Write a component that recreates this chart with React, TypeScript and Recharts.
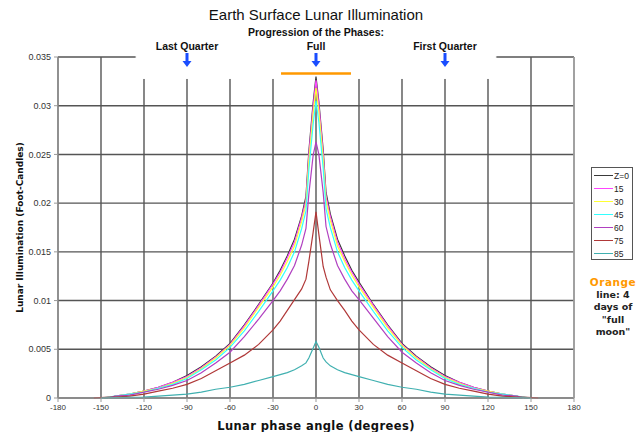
import React from "react";
import {
  CartesianGrid,
  Line,
  LineChart,
  ReferenceArea,
  ReferenceDot,
  ReferenceLine,
  XAxis,
  YAxis,
} from "recharts";

// phase angle (degrees) and illumination (foot-candles) per zenith angle
const ANGLES = [
  -155, -150, -145, -140, -130, -120, -110, -100, -90, -80, -70, -60, -50, -40, -30, -25, -20, -15, -10, -7, -5, -2,
  0, 2, 5, 7, 10, 15, 20, 25, 30, 40, 50, 60, 70, 80, 90, 100, 110, 120, 130, 140, 145, 150, 155,
];

const Z0 = [
  null, null, 0, 0.0002, 0.0004, 0.0007, 0.0011, 0.0016, 0.0023, 0.0032, 0.0043, 0.0056, 0.0075, 0.0096, 0.0118,
  0.0131, 0.0146, 0.0163, 0.0187, 0.0207, 0.0253, 0.0303, 0.033, 0.0304, 0.0255, 0.0211, 0.0189, 0.0163, 0.0146,
  0.0131, 0.0119, 0.0096, 0.0075, 0.0056, 0.0043, 0.0032, 0.0023, 0.0016, 0.0011, 0.0007, 0.0004, 0.0002, 0, null, null,
];
const Z15 = [
  null, null, 0, 0.0002, 0.0004, 0.0007, 0.0011, 0.0016, 0.0022, 0.0031, 0.0042, 0.0055, 0.0074, 0.0095, 0.0117,
  0.0129, 0.0144, 0.016, 0.0185, 0.0203, 0.0249, 0.0299, 0.0326, 0.0301, 0.0251, 0.0207, 0.0186, 0.016, 0.0143,
  0.0129, 0.0117, 0.0095, 0.0074, 0.0055, 0.0042, 0.0031, 0.0022, 0.0016, 0.0011, 0.0007, 0.0004, 0.0002, 0, null, null,
];
const Z30 = [
  null, null, 0, 0.0002, 0.0004, 0.0007, 0.001, 0.0015, 0.0021, 0.003, 0.0041, 0.0054, 0.0072, 0.0093, 0.0114,
  0.0126, 0.014, 0.0156, 0.0181, 0.0199, 0.0243, 0.0292, 0.0318, 0.0294, 0.0245, 0.0202, 0.0182, 0.0156, 0.014,
  0.0126, 0.0114, 0.0093, 0.0072, 0.0054, 0.0041, 0.003, 0.0021, 0.0015, 0.001, 0.0007, 0.0004, 0.0002, 0, null, null,
];
const Z45 = [
  null, 0, 0.0001, 0.0002, 0.0004, 0.0006, 0.001, 0.0014, 0.002, 0.0029, 0.0039, 0.0052, 0.0069, 0.0089, 0.011,
  0.0121, 0.0134, 0.015, 0.0174, 0.0192, 0.0234, 0.0281, 0.0305, 0.0283, 0.0236, 0.0194, 0.0175, 0.015, 0.0134,
  0.0121, 0.011, 0.0089, 0.0069, 0.0052, 0.0039, 0.0029, 0.002, 0.0014, 0.001, 0.0006, 0.0004, 0.0002, 0.0001, 0, null,
];
const Z60 = [
  null, null, 0, 0.0002, 0.0003, 0.0006, 0.0009, 0.0013, 0.0018, 0.0026, 0.0036, 0.0047, 0.0063, 0.0081, 0.01,
  0.011, 0.0122, 0.0136, 0.0157, 0.0174, 0.0209, 0.0249, 0.0263, 0.025, 0.0211, 0.0176, 0.0158, 0.0136, 0.0122,
  0.011, 0.0101, 0.0082, 0.0063, 0.0047, 0.0036, 0.0026, 0.0018, 0.0013, 0.0009, 0.0006, 0.0003, 0.0002, 0, null, null,
];
const Z75 = [
  0, 0.00005, 0.0001, 0.0001, 0.0002, 0.0004, 0.0007, 0.001, 0.0014, 0.002, 0.0028, 0.0036, 0.0044, 0.0055, 0.007,
  0.0079, 0.009, 0.0101, 0.0112, 0.0122, 0.014, 0.017, 0.0191, 0.0168, 0.0135, 0.0124, 0.0111, 0.01, 0.009,
  0.0079, 0.007, 0.0055, 0.0044, 0.0036, 0.0028, 0.002, 0.0014, 0.001, 0.0007, 0.0004, 0.0002, 0.0001, 0.0001, 0.00005, 0,
];
const Z85 = [
  null, 0, 0.00002, 0.00003, 0.00006, 0.0001, 0.0002, 0.0003, 0.0004, 0.0006, 0.0009, 0.0011, 0.0014, 0.0018, 0.0022,
  0.0024, 0.0026, 0.0029, 0.0033, 0.0036, 0.0041, 0.0051, 0.0058, 0.0052, 0.0041, 0.0037, 0.0033, 0.0029, 0.0026,
  0.0024, 0.0022, 0.0018, 0.0014, 0.0011, 0.0009, 0.0006, 0.0004, 0.0003, 0.0002, 0.0001, 0.00006, 0.00003, 0.00002, 0, null,
];

const SERIES = [
  { key: "z0", name: "Z=0", color: "#3a3a3a", values: Z0 },
  { key: "z15", name: "15", color: "#ff44ff", values: Z15 },
  { key: "z30", name: "30", color: "#ffff33", values: Z30 },
  { key: "z45", name: "45", color: "#33ffff", values: Z45 },
  { key: "z60", name: "60", color: "#b040c0", values: Z60 },
  { key: "z75", name: "75", color: "#b03838", values: Z75 },
  { key: "z85", name: "85", color: "#40b0b0", values: Z85 },
];

const X_TICKS = [-180, -150, -120, -90, -60, -30, 0, 30, 60, 90, 120, 150, 180];
const Y_TICKS = [0, 0.005, 0.01, 0.015, 0.02, 0.025, 0.03, 0.035];

const PHASES = [
  { angle: -90, label: "Last Quarter" },
  { angle: 0, label: "Full" },
  { angle: 90, label: "First Quarter" },
];
const FULL_MOON_SPAN = [-24.4, 24.4];
const FULL_MOON_LEVEL = 0.0333;
const NOTE_BOX = { x1: -125.5, x2: 125.5, y1: 0.0328, y2: 0.0352 };

const data = ANGLES.map((angle, i) => {
  const row: Record<string, number | null> = { angle };
  SERIES.forEach((s) => (row[s.key] = s.values[i]));
  return row;
});

const labelFont = "'DejaVu Sans', Verdana, sans-serif";
const arial = "'Liberation Sans', Arial, sans-serif";

function PhaseMarker(props: any) {
  const { cx, cy, label, top } = props;
  return (
    <g>
      {top && (
        <text x={cx} y={cy - 21} textAnchor="middle" fontFamily={arial} fontWeight="bold" fontSize={10.5} fill="#111">
          Progression of the Phases:
        </text>
      )}
      <text x={cx} y={cy - 7} textAnchor="middle" fontFamily={arial} fontWeight="bold" fontSize={10.5} fill="#111">
        {label}
      </text>
      <rect x={cx - 1.5} y={cy - 4} width={3} height={9} fill="#1a4dff" />
      <path d={`M${cx - 4.5},${cy + 4} L${cx + 4.5},${cy + 4} L${cx},${cy + 10} Z`} fill="#1a4dff" />
    </g>
  );
}

export default function App() {
  return (
    <div style={{ position: "absolute", left: 0, top: 0, width: 639, height: 432, background: "#fff" }}>
      <div
        style={{
          position: "absolute",
          top: 6,
          width: 632,
          textAlign: "center",
          fontFamily: arial,
          fontSize: 15,
          color: "#111",
        }}
      >
        Earth Surface Lunar Illumination
      </div>
      <LineChart width={639} height={432} data={data} margin={{ top: 57, right: 65, bottom: 4, left: 8 }}>
        <CartesianGrid stroke="#555" strokeWidth={1.4} />
        <XAxis
          dataKey="angle"
          type="number"
          domain={[-180, 180]}
          ticks={X_TICKS}
          height={30}
          tickSize={4}
          tickMargin={2}
          stroke="#999"
          tick={{ fontSize: 8, fontFamily: arial, fill: "#333" }}
          label={{
            value: "Lunar phase angle (degrees)",
            position: "insideBottom",
            offset: -2,
            style: { fontFamily: labelFont, fontWeight: "bold", fontSize: 11.5, fill: "#111", letterSpacing: 0.4 },
          }}
        />
        <YAxis
          type="number"
          domain={[0, 0.035]}
          ticks={Y_TICKS}
          width={50}
          tickSize={4}
          tickMargin={3}
          stroke="#999"
          tick={{ fontSize: 9, fontFamily: arial, fill: "#333" }}
          label={{
            value: "Lunar Illumination (Foot-Candles)",
            angle: -90,
            position: "insideLeft",
            offset: 12,
            style: { textAnchor: "middle", fontFamily: labelFont, fontWeight: "bold", fontSize: 9, fill: "#111" },
          }}
        />
        <ReferenceLine x={180} stroke="#aaa" strokeWidth={1.5} />
        <ReferenceArea
          x1={NOTE_BOX.x1}
          x2={NOTE_BOX.x2}
          y1={NOTE_BOX.y1}
          y2={NOTE_BOX.y2}
          ifOverflow="visible"
          fill="#fff"
          fillOpacity={1}
          stroke="#fff"
          strokeWidth={1}
        />
        {SERIES.map((s) => (
          <Line
            key={s.key}
            dataKey={s.key}
            name={s.name}
            type="linear"
            stroke={s.color}
            strokeWidth={1.2}
            dot={false}
            activeDot={false}
            isAnimationActive={false}
          />
        ))}
        <ReferenceLine
          segment={[
            { x: FULL_MOON_SPAN[0], y: FULL_MOON_LEVEL },
            { x: FULL_MOON_SPAN[1], y: FULL_MOON_LEVEL },
          ]}
          stroke="#ff9900"
          strokeWidth={2.5}
        />
        {PHASES.map((p) => (
          <ReferenceDot
            key={p.label}
            x={p.angle}
            y={0.035}
            ifOverflow="visible"
            shape={(props: any) => <PhaseMarker {...props} label={p.label} top={p.angle === 0} />}
          />
        ))}
      </LineChart>
      <div
        style={{
          position: "absolute",
          left: 591,
          top: 167,
          width: 40,
          height: 90,
          border: "1px solid #555",
          background: "#fff",
          paddingTop: 1,
        }}
      >
        {SERIES.map((s) => (
          <div key={s.key} style={{ display: "flex", alignItems: "center", height: 13, fontFamily: arial, fontSize: 8.5, color: "#222" }}>
            <span style={{ display: "inline-block", width: 19, height: 1.5, background: s.color, marginLeft: 2, marginRight: 1 }} />
            {s.name}
          </div>
        ))}
      </div>
      <div
        style={{
          position: "absolute",
          left: 588,
          top: 276,
          width: 50,
          textAlign: "center",
          fontFamily: labelFont,
          fontWeight: "bold",
          fontSize: 9.5,
          lineHeight: "12.5px",
          color: "#222",
        }}
      >
        <div style={{ color: "#ff9900", fontSize: 10.5, letterSpacing: 0.5 }}>Orange</div>
        <div>line: 4</div>
        <div>days of</div>
        <div>"full</div>
        <div>moon"</div>
      </div>
    </div>
  );
}
